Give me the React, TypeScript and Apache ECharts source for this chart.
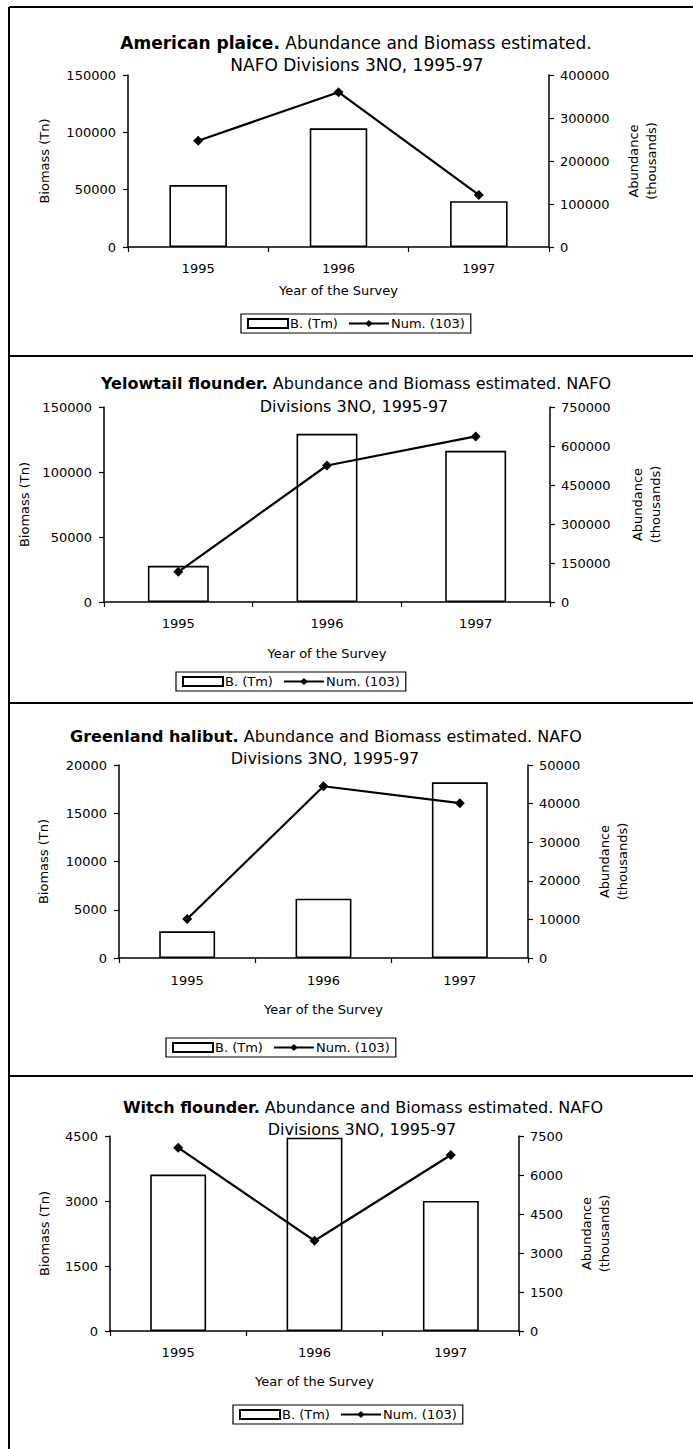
import React, { useEffect, useRef } from 'react';
import * as echarts from 'echarts';

// ---- data ----
const categories = ['1995', '1996', '1997'];
const speciesNames = ['American plaice.', 'Yelowtail flounder.', 'Greenland halibut.', 'Witch flounder.'];
const titleRest = [
  ' Abundance and Biomass estimated.',
  ' Abundance and Biomass estimated. NAFO',
  ' Abundance and Biomass estimated. NAFO',
  ' Abundance and Biomass estimated. NAFO',
];
const titleSecondLine = [
  'NAFO Divisions 3NO, 1995-97',
  'Divisions 3NO, 1995-97',
  'Divisions 3NO, 1995-97',
  'Divisions 3NO, 1995-97',
];

const biomassPlaice = [54000, 103500, 40000];
const abundancePlaice = [247000, 360000, 121000];
const biomassYellowtail = [27800, 129400, 116300];
const abundanceYellowtail = [116000, 525000, 637000];
const biomassHalibut = [2760, 6140, 18200];
const abundanceHalibut = [10100, 44500, 40100];
const biomassWitch = [3610, 4460, 3000];
const abundanceWitch = [7050, 3470, 6770];

const biomassSeries = [biomassPlaice, biomassYellowtail, biomassHalibut, biomassWitch];
const abundanceSeries = [abundancePlaice, abundanceYellowtail, abundanceHalibut, abundanceWitch];

const biomassMax = [150000, 150000, 20000, 4500];
const biomassInterval = [50000, 50000, 5000, 1500];
const abundanceMax = [400000, 750000, 50000, 7500];
const abundanceInterval = [100000, 150000, 10000, 1500];

const barName = 'B. (Tm)';
const lineName = 'Num. (103)';
const xAxisName = 'Year of the Survey';
const leftAxisName = 'Biomass (Tn)';
const rightAxisName = 'Abundance\n(thousands)';

// ---- layout ----
const layout = [
  { l: 128, r: 549, t: 75, b: 247, t1x: 356, t1y: 43, t2x: 357, t2y: 65, fs: 17, lg: 77, rg: 75, xm: 15, xg: 37, legL: 241, legT: 314 },
  { l: 104, r: 550, t: 407, b: 602, t1x: 356, t1y: 383, t2x: 354, t2y: 406, fs: 16, lg: 63, rg: 78, xm: 15, xg: 45, legL: 176, legT: 672 },
  { l: 119, r: 528, t: 765, b: 958, t1x: 326, t1y: 736, t2x: 325, t2y: 758, fs: 16, lg: 69, rg: 67, xm: 16, xg: 45, legL: 166, legT: 1038 },
  { l: 110, r: 519, t: 1136, b: 1331, t1x: 363, t1y: 1107, t2x: 362, t2y: 1129, fs: 16, lg: 59, rg: 58, xm: 15, xg: 44, legL: 233, legT: 1405 },
];

const FONT = 'DejaVu Sans';
const BLACK = '#000';
const plain = (v: number) => String(v);

export default function App() {
  const ref = useRef<HTMLDivElement>(null);

  useEffect(() => {
    if (!ref.current) return;
    const chart = echarts.init(ref.current, undefined, { renderer: 'svg' });

    const titles: any[] = [];
    const grids: any[] = [];
    const xAxes: any[] = [];
    const yAxes: any[] = [];
    const series: any[] = [];
    const legends: any[] = [];

    layout.forEach((p, i) => {
      titles.push({
        text: `{b|${speciesNames[i]}}{r|${titleRest[i]}}`,
        left: p.t1x,
        top: p.t1y - 10,
        textAlign: 'center',
        padding: 0,
        textStyle: {
          rich: {
            b: { fontFamily: FONT, fontSize: p.fs, fontWeight: 'bold', color: BLACK, lineHeight: 20 },
            r: { fontFamily: FONT, fontSize: p.fs, fontWeight: 'normal', color: BLACK, lineHeight: 20 },
          },
        },
      });
      titles.push({
        text: titleSecondLine[i],
        left: p.t2x,
        top: p.t2y - 10,
        textAlign: 'center',
        padding: 0,
        textStyle: { fontFamily: FONT, fontSize: p.fs, fontWeight: 'normal', color: BLACK, lineHeight: 20 },
      });

      grids.push({ left: p.l, top: p.t, width: p.r - p.l, height: p.b - p.t, containLabel: false });

      xAxes.push({
        type: 'category',
        gridIndex: i,
        data: categories,
        name: xAxisName,
        nameLocation: 'middle',
        nameGap: p.xg,
        nameTextStyle: { fontFamily: FONT, fontSize: 13, color: BLACK },
        axisLine: { lineStyle: { color: BLACK, width: 1.5 } },
        axisTick: { show: true, alignWithLabel: false, length: 5, lineStyle: { color: BLACK, width: 1.2 } },
        axisLabel: { fontFamily: FONT, fontSize: 13, color: BLACK, margin: p.xm },
        splitLine: { show: false },
      });

      yAxes.push({
        type: 'value',
        gridIndex: i,
        position: 'left',
        min: 0,
        max: biomassMax[i],
        interval: biomassInterval[i],
        name: leftAxisName,
        nameLocation: 'middle',
        nameRotate: 90,
        nameGap: p.lg,
        nameTextStyle: { fontFamily: FONT, fontSize: 13, color: BLACK },
        axisLine: { show: true, lineStyle: { color: BLACK, width: 1.5 } },
        axisTick: { show: true, length: 5, lineStyle: { color: BLACK, width: 1.2 } },
        axisLabel: { fontFamily: FONT, fontSize: 13, color: BLACK, margin: 12, formatter: plain },
        splitLine: { show: false },
      });
      yAxes.push({
        type: 'value',
        gridIndex: i,
        position: 'right',
        min: 0,
        max: abundanceMax[i],
        interval: abundanceInterval[i],
        name: rightAxisName,
        nameLocation: 'middle',
        nameRotate: 90,
        nameGap: p.rg,
        nameTextStyle: { fontFamily: FONT, fontSize: 13, color: BLACK, lineHeight: 18 },
        axisLine: { show: true, lineStyle: { color: BLACK, width: 1.5 } },
        axisTick: { show: true, length: 5, lineStyle: { color: BLACK, width: 1.2 } },
        axisLabel: { fontFamily: FONT, fontSize: 13, color: BLACK, margin: 11, formatter: plain },
        splitLine: { show: false },
      });

      series.push({
        type: 'bar',
        name: barName,
        xAxisIndex: i,
        yAxisIndex: 2 * i,
        data: biomassSeries[i],
        barWidth: '41%',
        itemStyle: { color: '#fff', borderColor: BLACK, borderWidth: 1.6 },
      });
      series.push({
        type: 'line',
        name: lineName,
        xAxisIndex: i,
        yAxisIndex: 2 * i + 1,
        data: abundanceSeries[i],
        symbol: 'diamond',
        symbolSize: 10,
        lineStyle: { color: BLACK, width: 2.2 },
        itemStyle: { color: BLACK },
      });

      legends.push({
        data: [{ name: barName, icon: 'rect' }, { name: lineName }],
        left: p.legL,
        top: p.legT,
        orient: 'horizontal',
        itemWidth: 40,
        itemHeight: 9,
        itemGap: 10,
        padding: [3, 6],
        borderColor: BLACK,
        borderWidth: 1.2,
        backgroundColor: '#fff',
        selectedMode: false,
        textStyle: { fontFamily: FONT, fontSize: 13, color: BLACK, padding: [0, 0, 0, -3] },
      });
    });

    const borderLines = [7, 356, 703, 1076].map((y) => ({
      type: 'line',
      shape: { x1: 9, y1: y, x2: 693, y2: y },
      style: { stroke: BLACK, lineWidth: 2 },
      silent: true,
    }));

    chart.setOption({
      animation: false,
      backgroundColor: '#fff',
      title: titles,
      grid: grids,
      xAxis: xAxes,
      yAxis: yAxes,
      series,
      legend: legends,
      graphic: [
        ...borderLines,
        {
          type: 'line',
          shape: { x1: 9, y1: 7, x2: 9, y2: 1449 },
          style: { stroke: BLACK, lineWidth: 2 },
          silent: true,
        },
      ],
    });

    return () => chart.dispose();
  }, []);

  return (
    <div
      ref={ref}
      style={{ position: 'absolute', left: 0, top: 0, width: 693, height: 1449, background: '#fff' }}
    />
  );
}
